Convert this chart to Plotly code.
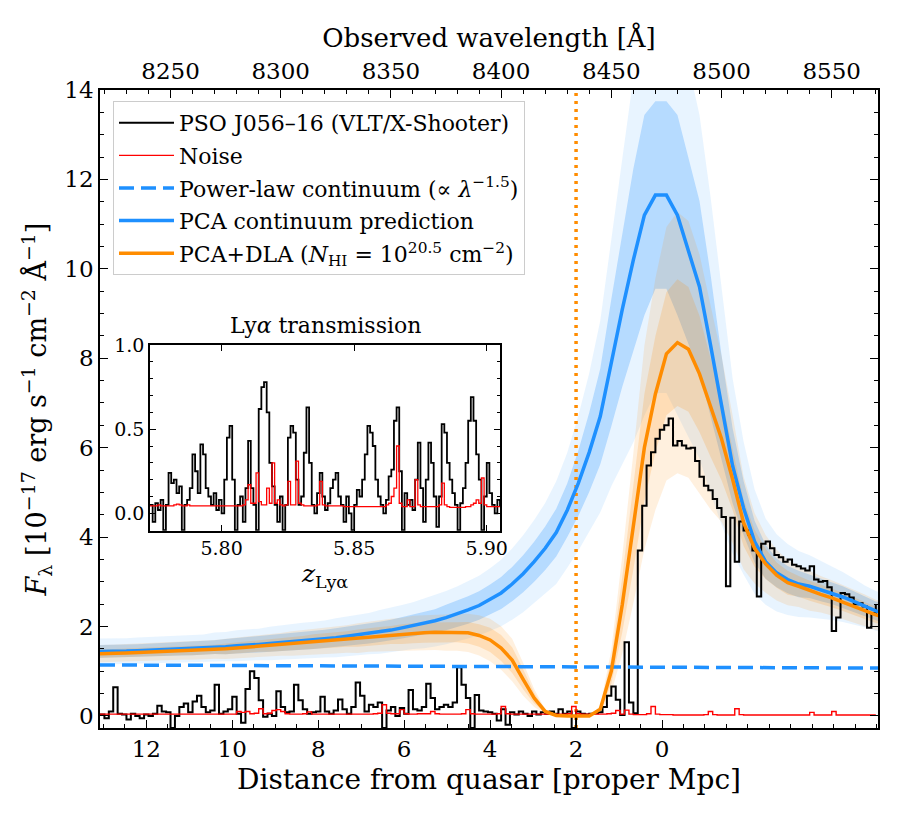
import numpy as np
import plotly.graph_objects as go

# ---------------- data ----------------
# observed spectrum on a 2 A grid starting at 8218 A
spec_lam0, spec_dlam = 8218.0, 2.0
spec_flux = [
    0.03, -0.05, 0.10, 0.64, 0.05, 0.03, -0.08, 0.05, 0.00, -0.05,
    0.03, 0.00, 0.05, 0.23, 0.10, 0.08, -0.27, 0.00, 0.20, 0.28,
    0.08, 0.32, 0.45, 0.20, 0.08, 0.12, 0.70, 0.05, 0.10, 0.15,
    0.43, 0.05, -0.15, 0.60, 1.00, 0.85, 0.35, -0.02, 0.05, 0.00,
    0.55, 0.20, 0.08, 0.10, 0.70, 0.35, 0.15, 0.05, 0.08, 0.10,
    0.43, 0.10, 0.05, 0.12, 0.37, 0.15, 0.05, 0.20, 0.75, 0.45,
    0.10, 0.25, 0.20, 0.30, -0.27, 0.12, 0.20, 0.00, 0.18, 0.05,
    0.58, 0.15, 0.12, 0.20, 0.72, 0.40, 0.15, 0.20, 0.25, 0.20,
    0.30, 1.09, 0.70, 0.40, -0.27, 0.47, 0.12, 0.10, 0.08, 0.05,
    -0.10, 0.15, -0.20, 0.08, 0.03, 0.10, 0.05, 0.00, 0.10, 0.03,
    0.08, 0.05, 0.10, 0.05, 0.15, 0.05, 0.10, -0.27, 0.10, 0.05,
    0.03, 0.05, 0.06, 0.08, 0.20, 0.45, 0.66, 0.36, 0.02, 1.65,
    0.30, 0.06, 3.70, 4.70, 5.60, 5.90, 6.20, 6.40, 6.50, 6.65,
    6.05, 6.15, 6.05, 5.98, 6.00, 5.70, 5.35, 5.15, 5.05, 4.85,
    4.65, 4.45, 2.90, 4.43, 3.45, 4.35, 4.15, 4.05, 3.70, 2.67,
    3.85, 3.90, 3.75, 3.60, 3.55, 3.45, 3.50, 3.38, 3.35, 3.30,
    3.25, 3.35, 3.05, 3.00, 3.02, 2.88, 1.90, 2.20, 2.75, 2.72,
    2.65, 2.50, 2.52, 2.45, 1.97, 2.30, 2.50,
]
spec_noise = [
    0.04, 0.04, 0.04, 0.04, 0.04, 0.04, 0.04, 0.04, 0.04, 0.04,
    0.04, 0.04, 0.04, 0.04, 0.04, 0.04, 0.04, 0.04, 0.04, 0.04,
    0.04, 0.04, 0.04, 0.04, 0.04, 0.04, 0.04, 0.04, 0.04, 0.04,
    0.04, 0.10, 0.08, 0.10, 0.05, 0.06, 0.16, 0.05, 0.06, 0.12,
    0.14, 0.10, 0.05, 0.04, 0.04, 0.04, 0.05, 0.09, 0.04, 0.04,
    0.04, 0.04, 0.04, 0.04, 0.04, 0.04, 0.04, 0.04, 0.04, 0.04,
    0.04, 0.04, 0.05, 0.06, 0.25, 0.06, 0.05, 0.05, 0.14, 0.05,
    0.04, 0.04, 0.05, 0.05, 0.05, 0.10, 0.05, 0.04, 0.04, 0.04,
    0.04, 0.04, 0.05, 0.14, 0.05, 0.04, 0.04, 0.04, 0.04, 0.04,
    0.05, 0.21, 0.05, 0.04, 0.04, 0.04, 0.04, 0.04, 0.04, 0.04,
    0.04, 0.04, 0.04, 0.04, 0.04, 0.04, 0.05, 0.21, 0.05, 0.04,
    0.04, 0.04, 0.04, 0.04, 0.04, 0.05, 0.06, 0.12, 0.04, 0.13,
    0.04, 0.03, 0.03, 0.03, 0.05, 0.21, 0.04, 0.03, 0.03, 0.03,
    0.02, 0.02, 0.02, 0.02, 0.02, 0.02, 0.02, 0.03, 0.10, 0.03,
    0.02, 0.02, 0.02, 0.02, 0.16, 0.03, 0.02, 0.02, 0.02, 0.02,
    0.02, 0.02, 0.02, 0.02, 0.02, 0.02, 0.02, 0.02, 0.02, 0.02,
    0.02, 0.08, 0.02, 0.02, 0.02, 0.02, 0.10, 0.02, 0.02, 0.02,
    0.02, 0.02, 0.02, 0.02, 0.02, 0.02, 0.02,
]
spec_lam = spec_lam0 + spec_dlam * np.arange(len(spec_flux))

# model curves on a 5 A grid 8215..8575
model_lam = [8215 + 5 * i for i in range(73)]
pca_flux = [
    1.44, 1.44, 1.45, 1.45, 1.46, 1.47, 1.48, 1.49, 1.50, 1.51,
    1.52, 1.54, 1.55, 1.57, 1.58, 1.60, 1.62, 1.64, 1.66, 1.68,
    1.70, 1.72, 1.75, 1.78, 1.81, 1.84, 1.88, 1.92, 1.97, 2.02,
    2.07, 2.13, 2.20, 2.28, 2.37, 2.47, 2.60, 2.75, 2.95, 3.18,
    3.45, 3.75, 4.10, 4.60, 5.20, 5.90, 6.70, 7.90, 9.10, 10.2,
    11.2, 11.65, 11.65, 11.2, 10.4, 9.6, 8.3, 6.9, 5.6, 4.65,
    3.9, 3.45, 3.2, 3.05, 2.95, 2.9, 2.82, 2.75, 2.66, 2.56,
    2.45, 2.35, 2.28,
]
pca_sig1 = [
    0.10, 0.10, 0.10, 0.10, 0.10, 0.10, 0.10, 0.10, 0.10, 0.10,
    0.10, 0.10, 0.11, 0.11, 0.11, 0.11, 0.11, 0.12, 0.12, 0.12,
    0.12, 0.12, 0.12, 0.12, 0.12, 0.12, 0.12, 0.12, 0.12, 0.12,
    0.12, 0.12, 0.13, 0.13, 0.13, 0.13, 0.13, 0.13, 0.13, 0.13,
    0.13, 0.13, 0.13, 0.13, 0.14, 0.15, 0.16, 0.18, 0.19, 0.20,
    0.20, 0.18, 0.18, 0.20, 0.20, 0.20, 0.19, 0.17, 0.15, 0.13,
    0.12, 0.11, 0.10, 0.10, 0.10, 0.09, 0.09, 0.09, 0.09, 0.09,
    0.09, 0.09, 0.09,
]
pca_sig2 = [
    0.20, 0.20, 0.20, 0.20, 0.20, 0.20, 0.20, 0.20, 0.20, 0.20,
    0.20, 0.21, 0.21, 0.22, 0.22, 0.22, 0.23, 0.23, 0.24, 0.24,
    0.24, 0.24, 0.25, 0.25, 0.25, 0.25, 0.26, 0.26, 0.26, 0.26,
    0.27, 0.27, 0.27, 0.27, 0.27, 0.27, 0.27, 0.27, 0.27, 0.27,
    0.27, 0.27, 0.28, 0.28, 0.29, 0.30, 0.32, 0.35, 0.38, 0.40,
    0.40, 0.38, 0.38, 0.40, 0.40, 0.40, 0.40, 0.38, 0.35, 0.32,
    0.30, 0.28, 0.27, 0.26, 0.25, 0.24, 0.23, 0.22, 0.21, 0.20,
    0.19, 0.19, 0.19,
]
dla_flux = [
    1.39, 1.39, 1.40, 1.41, 1.42, 1.43, 1.44, 1.45, 1.46, 1.46,
    1.47, 1.49, 1.50, 1.52, 1.54, 1.56, 1.58, 1.60, 1.62, 1.64,
    1.66, 1.68, 1.70, 1.72, 1.74, 1.77, 1.79, 1.81, 1.83, 1.85,
    1.86, 1.87, 1.87, 1.87, 1.86, 1.80, 1.70, 1.52, 1.25, 0.82,
    0.40, 0.10, 0.01, 0.00, 0.00, 0.00, 0.15, 1.00, 2.50, 4.20,
    6.00, 7.20, 8.10, 8.35, 8.20, 7.65, 6.90, 6.20, 5.30, 4.32,
    3.75, 3.40, 3.15, 2.98, 2.90, 2.80, 2.72, 2.64, 2.55, 2.46,
    2.36, 2.26, 2.20,
]
dla_sig1 = [
    0.07, 0.07, 0.07, 0.07, 0.07, 0.07, 0.07, 0.07, 0.07, 0.07,
    0.07, 0.07, 0.08, 0.08, 0.08, 0.08, 0.09, 0.09, 0.09, 0.09,
    0.10, 0.10, 0.10, 0.10, 0.11, 0.11, 0.11, 0.11, 0.12, 0.12,
    0.12, 0.12, 0.12, 0.12, 0.13, 0.14, 0.16, 0.19, 0.23, 0.27,
    0.30, 0.30, 0.30, 0.30, 0.30, 0.30, 0.30, 0.28, 0.25, 0.22,
    0.20, 0.18, 0.17, 0.17, 0.17, 0.17, 0.16, 0.15, 0.13, 0.12,
    0.11, 0.10, 0.09, 0.09, 0.08, 0.08, 0.08, 0.08, 0.08, 0.08,
    0.08, 0.08, 0.08,
]
dla_sig2 = [
    0.14, 0.14, 0.14, 0.14, 0.14, 0.14, 0.14, 0.14, 0.14, 0.14,
    0.14, 0.14, 0.15, 0.15, 0.15, 0.16, 0.16, 0.16, 0.17, 0.17,
    0.17, 0.18, 0.18, 0.18, 0.19, 0.19, 0.19, 0.20, 0.20, 0.21,
    0.21, 0.21, 0.22, 0.22, 0.23, 0.25, 0.28, 0.32, 0.38, 0.45,
    0.50, 0.50, 0.50, 0.50, 0.50, 0.50, 0.50, 0.48, 0.44, 0.40,
    0.38, 0.36, 0.35, 0.35, 0.35, 0.35, 0.33, 0.30, 0.27, 0.24,
    0.21, 0.19, 0.18, 0.17, 0.16, 0.16, 0.15, 0.15, 0.15, 0.15,
    0.15, 0.15, 0.15,
]
pl_lam = [8218, 8300, 8400, 8500, 8571]
pl_flux = [1.14, 1.125, 1.105, 1.085, 1.07]

# inset: Lya transmission vs z (grid 5.773 + 0.001 k)
ins_z0, ins_dz = 5.773, 0.001
ins_trans = [
    0.05, -0.05, 0.06, 0.02, 0.08, -0.10, 0.05, 0.24, 0.18, 0.20,
    0.12, 0.16, -0.10, 0.05, 0.08, 0.15, 0.35, 0.25, 0.12, 0.41,
    0.35, 0.15, 0.10, 0.05, 0.12, 0.02, 0.08, 0.00, 0.20, 0.45,
    0.52, 0.20, -0.10, 0.05, 0.10, -0.05, 0.15, 0.43, 0.15, 0.05,
    -0.10, 0.62, 0.75, 0.78, 0.60, 0.30, 0.16, 0.05, -0.05, 0.10,
    -0.10, 0.05, 0.45, 0.52, 0.48, 0.20, 0.05, 0.10, 0.36, 0.63,
    0.30, 0.05, 0.00, 0.12, 0.24, 0.10, 0.02, 0.06, 0.15, 0.20,
    0.24, 0.10, 0.05, -0.05, 0.10, 0.00, -0.10, 0.05, 0.14, 0.10,
    0.20, 0.35, 0.52, 0.48, 0.40, 0.20, 0.10, 0.05, 0.00, 0.08,
    0.22, 0.26, 0.55, 0.63, 0.25, -0.10, 0.12, 0.05, 0.08, 0.02,
    0.20, 0.42, 0.15, -0.05, 0.20, 0.42, 0.30, 0.10, -0.08, 0.10,
    0.53, 0.48, 0.30, 0.20, 0.12, 0.05, -0.10, 0.06, 0.15, 0.30,
    0.55, 0.69, 0.55, 0.35, 0.20, -0.10, 0.10, 0.30, 0.12, 0.05,
    0.00, 0.08, 0.04,
]
ins_noise = [
    0.045, 0.045, 0.045, 0.05, 0.045, 0.045, 0.045, 0.045, 0.045, 0.05,
    0.055, 0.05, 0.045, 0.045, 0.05, 0.045, 0.045, 0.045, 0.045, 0.045,
    0.045, 0.045, 0.045, 0.045, 0.045, 0.045, 0.045, 0.045, 0.045, 0.045,
    0.045, 0.045, 0.045, 0.045, 0.045, 0.05, 0.08, 0.17, 0.06, 0.06,
    0.24, 0.07, 0.05, 0.05, 0.15, 0.06, 0.30, 0.06, 0.08, 0.05,
    0.045, 0.05, 0.19, 0.05, 0.05, 0.31, 0.06, 0.05, 0.045, 0.045,
    0.045, 0.045, 0.045, 0.05, 0.19, 0.05, 0.045, 0.045, 0.045, 0.045,
    0.045, 0.045, 0.045, 0.04, 0.04, 0.04, 0.04, 0.04, 0.04, 0.04,
    0.04, 0.04, 0.04, 0.04, 0.04, 0.04, 0.04, 0.04, 0.04, 0.05,
    0.06, 0.10, 0.15, 0.40, 0.06, 0.04, 0.04, 0.08, 0.04, 0.04,
    0.20, 0.05, 0.04, 0.04, 0.04, 0.04, 0.04, 0.04, 0.04, 0.05,
    0.18, 0.05, 0.04, 0.035, 0.035, 0.035, 0.035, 0.035, 0.035, 0.04,
    0.04, 0.05, 0.06, 0.08, 0.06, 0.21, 0.05, 0.04, 0.04, 0.04,
    0.04, 0.04, 0.04,
]
ins_z = ins_z0 + ins_dz * np.arange(len(ins_trans))

# axes / ticks
wave_ticks = [8250, 8300, 8350, 8400, 8450, 8500, 8550]
dist_ticks = [0, 2, 4, 6, 8, 10, 12]
flux_ticks = [0, 2, 4, 6, 8, 10, 12, 14]
LAM_QSO = 8473.0        # Lya at the quasar redshift (distance 0)
ANG_PER_MPC = 19.5      # observed A per proper Mpc
dla_distance = 2.0

ins_xticks = [5.80, 5.85, 5.90]
ins_yticks = [0.0, 0.5, 1.0]

# ---------------- figure ----------------
W, H = 900, 825
L, R, T, B = 100, 22, 90, 97
pw, ph = W - L - R, H - T - B
def fx(px):
    return (px - L) / pw
def fy(py):
    return (H - B - py) / ph

FONT = "DejaVu Serif"
BLUE = "#1e90ff"
ORANGE = "#ff8c00"

def lam_of_d(d):
    return LAM_QSO - ANG_PER_MPC * d

fig = go.Figure()

def band(lam, c, s, color, alpha):
    c = np.array(c); s = np.array(s)
    hi = c * (1 + s); lo = c * (1 - s)
    xs = list(lam) + list(lam)[::-1]
    ys = list(hi) + list(lo)[::-1]
    fig.add_trace(go.Scatter(x=xs, y=ys, fill="toself", mode="lines",
                             line=dict(width=0), fillcolor=f"rgba({color},{alpha})",
                             showlegend=False, hoverinfo="skip"))

band(model_lam, pca_flux, pca_sig2, "30,144,255", 0.10)
band(model_lam, pca_flux, pca_sig1, "30,144,255", 0.25)
band(model_lam, dla_flux, dla_sig2, "255,140,0", 0.13)
band(model_lam, dla_flux, dla_sig1, "255,140,0", 0.18)

fig.add_trace(go.Scatter(x=[lam_of_d(dla_distance)] * 2, y=[-0.27, 14], mode="lines",
                         line=dict(color=ORANGE, width=3.5, dash="3px,5px"),
                         showlegend=False, hoverinfo="skip"))

fig.add_trace(go.Scatter(x=spec_lam, y=spec_flux, mode="lines", line_shape="hv",
                         line=dict(color="black", width=2),
                         name="PSO J056–16 (VLT/X-Shooter)", legendgroup="a"))
fig.add_trace(go.Scatter(x=spec_lam, y=spec_noise, mode="lines", line_shape="hv",
                         line=dict(color="#ff0000", width=1.4),
                         name="Noise", legendgroup="b"))
fig.add_trace(go.Scatter(x=pl_lam, y=pl_flux, mode="lines",
                         line=dict(color=BLUE, width=3.5, dash="15px,7px"),
                         name="Power-law continuum (∝ <i>λ</i><sup>−1.5</sup>)", legendgroup="c"))
fig.add_trace(go.Scatter(x=model_lam, y=pca_flux, mode="lines",
                         line=dict(color=BLUE, width=3.5),
                         name="PCA continuum prediction", legendgroup="d"))
fig.add_trace(go.Scatter(x=model_lam, y=dla_flux, mode="lines",
                         line=dict(color=ORANGE, width=3.5),
                         name="PCA+DLA (<i>N</i><sub>HI</sub> = 10<sup>20.5</sup> cm<sup>−2</sup>)",
                         legendgroup="e"))

# dummy trace for top axis
fig.add_trace(go.Scatter(x=[8400], y=[0], xaxis="x2", yaxis="y", mode="markers",
                         marker=dict(opacity=0), showlegend=False, hoverinfo="skip"))

# inset traces
fig.add_trace(go.Scatter(x=ins_z, y=ins_trans, mode="lines", line_shape="hv",
                         line=dict(color="black", width=1.8), xaxis="x3", yaxis="y3",
                         showlegend=False, hoverinfo="skip"))
fig.add_trace(go.Scatter(x=ins_z, y=ins_noise, mode="lines", line_shape="hv",
                         line=dict(color="#ff0000", width=1.3), xaxis="x3", yaxis="y3",
                         showlegend=False, hoverinfo="skip"))

xr = [8218, 8571]
minor_d = [d * 0.5 for d in range(-10, 27)]
axis_common = dict(showline=True, linecolor="black", linewidth=1.5, ticks="inside",
                   tickcolor="black", tickwidth=1.3, showgrid=False, zeroline=False)

fig.update_layout(
    width=W, height=H, margin=dict(l=L, r=R, t=T, b=B),
    paper_bgcolor="white", plot_bgcolor="white",
    font=dict(family=FONT, color="black", size=22),
    xaxis=dict(domain=[0, 1], range=xr, anchor="y",
               tickmode="array", tickvals=[lam_of_d(d) for d in dist_ticks],
               ticktext=[str(d) for d in dist_ticks], ticklen=8,
               tickfont=dict(size=23),
               minor=dict(tickmode="array", tickvals=[lam_of_d(d) for d in minor_d],
                          ticklen=4, ticks="inside", tickcolor="black", tickwidth=1.2),
               title=dict(text="Distance from quasar [proper Mpc]", font=dict(size=28), standoff=8),
               **axis_common),
    xaxis2=dict(overlaying="x", side="top", range=xr, anchor="y",
                tickmode="array", tickvals=wave_ticks, ticktext=[str(v) for v in wave_ticks],
                ticklen=8, tickfont=dict(size=23),
                minor=dict(tick0=8200, dtick=10, ticklen=4, ticks="inside",
                           tickcolor="black", tickwidth=1.2),
                title=dict(text="Observed wavelength [Å]", font=dict(size=26), standoff=3),
                **axis_common),
    yaxis=dict(domain=[0, 1], range=[-0.27, 14], anchor="x", mirror="ticks",
               tickmode="array", tickvals=flux_ticks, ticklen=8, tickfont=dict(size=23),
               minor=dict(dtick=0.5, tick0=0, ticklen=4, ticks="inside",
                          tickcolor="black", tickwidth=1.2),
               title=dict(text="<i>F</i><sub>λ</sub> [10<sup>−17</sup> erg s<sup>−1</sup> cm<sup>−2</sup> Å<sup>−1</sup>]",
                          font=dict(size=27), standoff=10),
               **axis_common),
    xaxis3=dict(domain=[fx(150), fx(500)], range=[5.773, 5.905], anchor="y3", mirror="ticks",
                tickmode="array", tickvals=ins_xticks, ticktext=["%.2f" % v for v in ins_xticks],
                ticklen=6, tickfont=dict(size=19),
                title=dict(text="<i>z</i><sub>Lyα</sub>", font=dict(size=25), standoff=4),
                **axis_common),
    yaxis3=dict(domain=[fy(530.7), fy(345)], range=[-0.103, 1.0], anchor="x3", mirror="ticks",
                tickmode="array", tickvals=ins_yticks, ticktext=["%.1f" % v for v in ins_yticks],
                ticklen=6, tickfont=dict(size=19),
                minor=dict(dtick=0.1, tick0=0, ticklen=3, ticks="inside",
                           tickcolor="black", tickwidth=1.1),
                **axis_common),
    legend=dict(x=fx(113), y=fy(101), xanchor="left", yanchor="top",
                bgcolor="rgba(255,255,255,0.85)", bordercolor="#cccccc", borderwidth=1,
                font=dict(size=22), tracegroupgap=1, itemwidth=55),
    annotations=[dict(text="Ly<i>α</i> transmission", x=(fx(150) + fx(500)) / 2, y=fy(325),
                      xref="paper", yref="paper", showarrow=False, font=dict(size=22),
                      xanchor="center", yanchor="middle")],
)

fig.write_html("out.html")
